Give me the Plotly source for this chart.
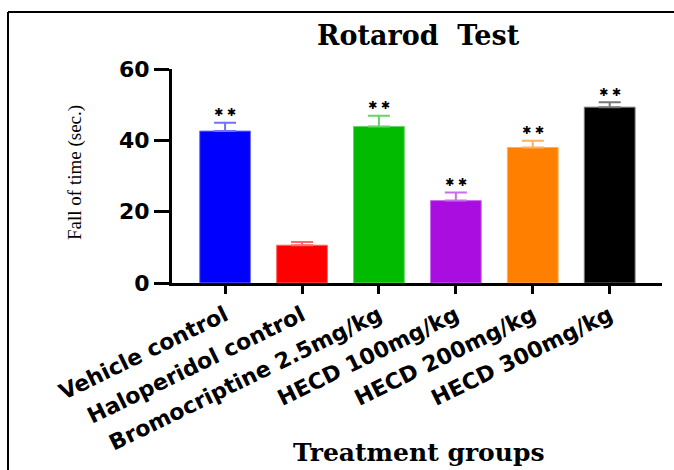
import plotly.graph_objects as go

categories = ["Vehicle control", "Haloperidol control", "Bromocriptine 2.5mg/kg",
              "HECD 100mg/kg", "HECD 200mg/kg", "HECD 300mg/kg"]
means = [42.6, 10.6, 43.9, 23.1, 38.0, 49.3]
sems = [2.3, 0.9, 3.0, 2.3, 1.9, 1.4]
significance = ["**", "", "**", "**", "**", "**"]
y_ticks = [0, 20, 40, 60]

bar_colors = ["#0000ff", "#ff0000", "#00bb00", "#aa0de0", "#ff8000", "#000000"]
err_colors = ["#7070ff", "#ff6a6a", "#66d466", "#c96cf0", "#ffb066", "#777777"]

W, H = 674, 470
L, R, T, B = 172, 12, 69, 187
pw, ph = W - L - R, H - T - B


def px_x(px):
    return (px - L) / pw


def px_y(py):
    return (H - B - py) / ph


fig = go.Figure()
for i, cat in enumerate(categories):
    fig.add_trace(go.Bar(
        x=[cat], y=[means[i]], width=0.66,
        marker=dict(color=bar_colors[i], line=dict(color=err_colors[i], width=1)),
        error_y=dict(type="data", array=[sems[i]], arrayminus=[0], symmetric=False,
                     color=err_colors[i], thickness=2, width=11),
        showlegend=False, hoverinfo="skip",
    ))

annotations = []
for i, cat in enumerate(categories):
    if significance[i]:
        annotations.append(dict(
            x=cat, y=means[i] + sems[i], xref="x", yref="y",
            text="\u2731\u00a0\u2731", showarrow=False, yanchor="middle", yshift=10,
            font=dict(family="DejaVu Sans", size=11, color="black"),
        ))

annotations += [
    dict(x=px_x(418), y=px_y(36), xref="paper", yref="paper",
         text="Rotarod\u00a0\u00a0Test", showarrow=False, xanchor="center", yanchor="middle",
         font=dict(family="DejaVu Serif", size=27, color="black", weight="bold")),
    dict(x=px_x(418), y=px_y(452), xref="paper", yref="paper",
         text="Treatment groups", showarrow=False, xanchor="center", yanchor="middle",
         font=dict(family="DejaVu Serif", size=25, color="black", weight="bold")),
    dict(x=px_x(75), y=px_y(173), xref="paper", yref="paper",
         text="Fall of time (sec.)", showarrow=False, textangle=-90,
         xanchor="center", yanchor="middle",
         font=dict(family="Liberation Serif", size=19, color="black")),
]

shapes = [
    dict(type="line", xref="paper", yref="paper",
         x0=px_x(8), x1=px_x(8), y0=px_y(472), y1=px_y(12),
         line=dict(color="black", width=2)),
    dict(type="line", xref="paper", yref="paper",
         x0=px_x(8), x1=px_x(676), y0=px_y(12), y1=px_y(12),
         line=dict(color="black", width=2)),
]

fig.update_layout(
    width=W, height=H,
    margin=dict(l=L, r=R, t=T, b=B, autoexpand=False),
    paper_bgcolor="white", plot_bgcolor="white",
    barmode="overlay",
    annotations=annotations,
    shapes=shapes,
    xaxis=dict(
        type="category", categoryorder="array", categoryarray=categories,
        range=[-0.69, 5.68], automargin=False,
        showline=True, linecolor="black", linewidth=3,
        ticks="outside", ticklen=8, tickwidth=3, tickcolor="black",
        tickangle=-26, showgrid=False,
        tickfont=dict(family="DejaVu Sans", size=22, color="black", weight="bold"),
    ),
    yaxis=dict(
        range=[0, 60], tickvals=y_ticks, automargin=False,
        showline=True, linecolor="black", linewidth=3,
        ticks="outside", ticklen=15, tickwidth=3, tickcolor="black",
        showgrid=False, zeroline=False,
        tickfont=dict(family="DejaVu Sans", size=22, color="black", weight="bold"),
    ),
)

fig.write_html("out.html", config={"displayModeBar": False},
               post_script="document.body.style.margin='0';document.body.style.overflow='hidden';")
